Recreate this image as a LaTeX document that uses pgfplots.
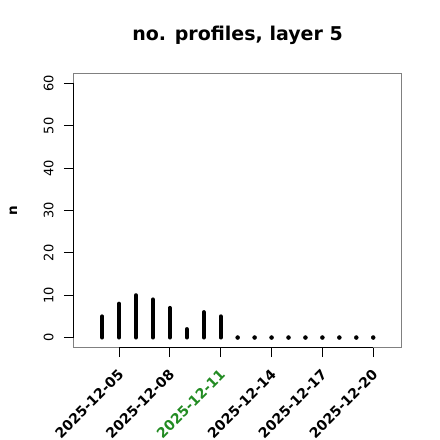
\documentclass[border=0pt]{standalone}
\usepackage{fontspec}
\setmainfont{DejaVu Sans}
\usepackage{pgfplots}
\pgfplotsset{compat=1.18}
\definecolor{labgreen}{HTML}{228B22}
\definecolor{boxgray}{HTML}{808080}
\begin{document}
\begin{tikzpicture}
\begin{axis}[
  scale only axis,
  width=328.4bp, height=274.4bp,
  xmin=2.3, xmax=21.68,
  ymin=-2.4, ymax=62.4,
  axis line style={boxgray, line width=1.4bp},
  tick style={black, line width=1.1bp},
  tick align=outside,
  major tick length=9.5bp,
  xtick={5,8,11,14,17,20},
  xticklabels={2025-12-05,2025-12-08,\textcolor{labgreen}{2025-12-11},2025-12-14,2025-12-17,2025-12-20},
  xticklabel style={xshift=-2bp, yshift=-11bp, rotate=45, anchor=north east, inner sep=0pt, font=\fontsize{14bp}{15bp}\bfseries\selectfont},
  ytick={0,10,...,60},
  yticklabel style={xshift=-10bp, rotate=90, anchor=south, inner sep=0pt, font=\fontsize{13bp}{14bp}\selectfont},
  /pgf/number format/assume math mode=true,
  xtick pos=bottom, ytick pos=left,
  title={no. profiles, layer 5},
  title style={at={(0.5,1)}, anchor=base, yshift=27bp, font=\fontsize{19bp}{21bp}\bfseries\selectfont},
  ylabel={n},
  every axis y label/.style={at={(rel axis cs:0,0.5)}, xshift=-60bp, rotate=90, anchor=center, font=\fontsize{13.5bp}{14bp}\bfseries\selectfont},
  clip=false,
]
\addplot[ycomb, black, line width=4bp, line cap=round, mark=none] coordinates {
  (4,5) (5,8) (6,10) (7,9) (8,7) (9,2) (10,6) (11,5)
};
\addplot[only marks, mark=*, mark size=2bp, black] coordinates {
  (12,0) (13,0) (14,0) (15,0) (16,0) (17,0) (18,0) (19,0) (20,0)
};
\draw[black, line width=1.1bp] (axis cs:2.3,0) -- (axis cs:2.3,60);
\draw[black, line width=1.1bp] (axis cs:5,-2.4) -- (axis cs:20,-2.4);
\end{axis}
\pgfresetboundingbox
\path[use as bounding box] (-73.3bp,-92.3bp) rectangle (366.7bp,347.7bp);
\end{tikzpicture}
\end{document}
